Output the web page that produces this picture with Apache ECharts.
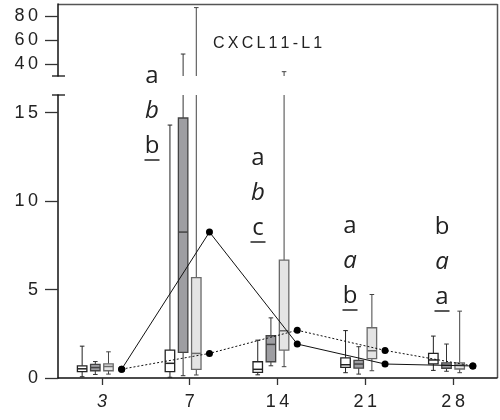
<!DOCTYPE html>
<html><head><meta charset="utf-8">
<script src="https://cdn.jsdelivr.net/npm/echarts@6/dist/echarts.min.js"></script>
<style>html,body{margin:0;padding:0;background:#fff}#c{width:500px;height:420px}</style>
</head><body><div id="c"></div>
<script>
// ---------- data ----------
const days = ['3', '7', '14', '21', '28'];
// five-number summaries per day: [min, q1, median, q3, max]
const whiteBox = [[0.07,0.36,0.52,0.69,1.8],[0.04,0.36,0.83,1.58,14.3],[0.18,0.32,0.49,0.92,2.14],[0.3,0.6,0.75,1.14,2.68],[0.43,0.8,1.02,1.39,2.37]];
const darkBox  = [[0.2,0.41,0.59,0.77,0.93],[0.13,1.45,8.25,14.7,48.3],[0.69,0.92,1.9,2.39,3.4],[0.22,0.56,0.79,1.0,1.77],[0.38,0.55,0.72,0.86,1.92]];
const lightBox = [[0.22,0.41,0.65,0.8,1.48],[0.17,0.49,1.39,5.68,87],[0.64,1.58,2.67,6.66,33.6],[0.41,1.09,1.54,2.84,4.72],[0.3,0.51,0.73,0.86,3.78]];
const solidLine  = [0.5, 8.25, 1.92, 0.79, 0.68];
const dottedLine = [0.5, 1.39, 2.7, 1.56, 0.68];
const yTicksUpper = [40, 60, 80];
const yTicksLower = [0, 5, 10, 15];
const titleText = 'CXCL11-L1';
const lettersRow1 = ['', 'a', 'a', 'a', 'b'];
const lettersRow2 = ['', 'b', 'b', 'a', 'a'];
const lettersRow3 = ['', 'b', 'c', 'b', 'a'];

// ---------- layout / style ----------
const SLOT = 0.15, BOXW = 0.108, DOT_OFF = 1.5 * SLOT;
const FONT = 'Liberation Sans';
const sp = s => String(s).split('').join('\u2009');

function boxRenderer(k, lo, hi, fill, stroke, whisk) {
  return function (params, api) {
    const i = api.value(0);
    const mn = api.value(1), q1 = api.value(2), md = api.value(3), q3 = api.value(4), mx = api.value(5);
    const xp = i + (k - 1.5) * SLOT;
    const cx = api.coord([xp, lo])[0];
    const bw = api.size([BOXW, 0])[0];
    const cap = 2.3;
    const Y = v => api.coord([xp, Math.max(lo, Math.min(hi, v))])[1];
    const inR = v => v >= lo && v <= hi;
    const ls = { stroke: whisk, lineWidth: 1 };
    const ch = [];
    if (mx > lo && q3 < hi) ch.push({ type: 'line', shape: { x1: cx, y1: Y(q3), x2: cx, y2: Y(mx) }, style: ls });
    if (inR(mx)) ch.push({ type: 'line', shape: { x1: cx - cap, y1: Y(mx), x2: cx + cap, y2: Y(mx) }, style: ls });
    if (q1 > lo && mn < hi) ch.push({ type: 'line', shape: { x1: cx, y1: Y(q1), x2: cx, y2: Y(mn) }, style: ls });
    if (inR(mn)) ch.push({ type: 'line', shape: { x1: cx - cap, y1: Y(mn), x2: cx + cap, y2: Y(mn) }, style: ls });
    if (q3 > lo && q1 < hi) {
      const yt = Y(q3), yb = Y(q1);
      ch.push({ type: 'rect', shape: { x: cx - bw / 2, y: yt, width: bw, height: yb - yt }, style: { fill: fill, stroke: stroke, lineWidth: 1.3 } });
    }
    if (inR(md)) ch.push({ type: 'line', shape: { x1: cx - bw / 2, y1: Y(md), x2: cx + bw / 2, y2: Y(md) }, style: { stroke: stroke, lineWidth: 1.5 } });
    return { type: 'group', children: ch };
  };
}
const toData = arr => arr.map((b, i) => [i].concat(b));
const boxStyles = [
  { data: whiteBox, fill: '#ffffff', stroke: '#222', whisk: '#222' },
  { data: darkBox,  fill: '#9e9ea2', stroke: '#444', whisk: '#333' },
  { data: lightBox, fill: '#e4e4e4', stroke: '#6a6a6a', whisk: '#444' }
];
const series = [];
boxStyles.forEach((b, k) => {
  series.push({ type: 'custom', xAxisIndex: 0, yAxisIndex: 0, z: 2, silent: true,
    encode: { x: 0, y: [1, 2, 3, 4, 5] }, data: toData(b.data),
    renderItem: boxRenderer(k, 30, 90, b.fill, b.stroke, b.whisk) });
  series.push({ type: 'custom', xAxisIndex: 2, yAxisIndex: 1, z: 2, silent: true,
    encode: { x: 0, y: [1, 2, 3, 4, 5] }, data: toData(b.data),
    renderItem: boxRenderer(k, 0, 16, b.fill, b.stroke, b.whisk) });
});
series.push({ type: 'line', xAxisIndex: 2, yAxisIndex: 1, z: 4, silent: true,
  data: solidLine.map((v, i) => [i + DOT_OFF, v]), symbol: 'circle', symbolSize: 7,
  itemStyle: { color: '#000' }, lineStyle: { color: '#111', width: 1 } });
series.push({ type: 'line', xAxisIndex: 2, yAxisIndex: 1, z: 4, silent: true,
  data: dottedLine.map((v, i) => [i + DOT_OFF, v]), symbol: 'circle', symbolSize: 7,
  itemStyle: { color: '#000' }, lineStyle: { color: '#111', width: 1, type: [2, 2] } });

// annotations (text)
const annX = [0, 152, 258, 350, 442];
const annBase = [0, 85, 167, 235, 236];
const graphic = [
  { type: 'line', shape: { x1: 58, y1: 4.5, x2: 497.5, y2: 4.5 }, style: { stroke: '#555', lineWidth: 1.5 } },
  { type: 'line', shape: { x1: 497.5, y1: 4, x2: 497.5, y2: 378 }, style: { stroke: '#555', lineWidth: 1.5 } },
  { type: 'line', shape: { x1: 52, y1: 76, x2: 65, y2: 76 }, style: { stroke: '#111', lineWidth: 1.3 } },
  { type: 'line', shape: { x1: 52, y1: 95, x2: 65, y2: 95 }, style: { stroke: '#111', lineWidth: 1.3 } },
  { type: 'text', x: 213, y: 44, style: { text: sp(titleText), font: '16px "' + FONT + '"', fill: '#222', verticalAlign: 'middle', align: 'left' } }
];
for (let d = 1; d < days.length; d++) {
  const x = annX[d], b = annBase[d];
  graphic.push({ type: 'text', x: x, y: b - 9, style: { text: lettersRow1[d], font: '24px "Open Sans"', fill: '#222', align: 'center', verticalAlign: 'middle' } });
  graphic.push({ type: 'text', x: x, y: b + 35 - 9, style: { text: lettersRow2[d], font: 'italic 24px "Open Sans"', fill: '#222', align: 'center', verticalAlign: 'middle' } });
  graphic.push({ type: 'text', x: x, y: b + 70 - 9, style: { text: lettersRow3[d], font: '24px "Open Sans"', fill: '#222', align: 'center', verticalAlign: 'middle' } });
  graphic.push({ type: 'line', shape: { x1: x - 7.5, y1: b + 75, x2: x + 7.5, y2: b + 75 }, style: { stroke: '#222', lineWidth: 1.5 } });
}

const axisLineStyle = { color: '#111', width: 1.5 };
const labelStyle = { color: '#222', fontSize: 18, fontFamily: FONT };
const option = {
  backgroundColor: '#fff',
  animation: false,
  grid: [
    { left: 58, right: 3, top: 4, height: 72 },
    { left: 58, right: 3, top: 95, bottom: 42 }
  ],
  xAxis: [
    { type: 'value', gridIndex: 0, min: -0.5, max: 4.5, show: false },
    { type: 'category', gridIndex: 1, data: days, boundaryGap: true,
      axisLine: { show: true, onZero: false, lineStyle: axisLineStyle },
      axisTick: { show: true, alignWithLabel: true, length: 7, lineStyle: { color: '#333', width: 1.3 } },
      axisLabel: Object.assign({ margin: 15, formatter: v => v === '3' ? '{i|3}' : sp(v),
        rich: { i: { fontStyle: 'italic', fontSize: 18, fontFamily: FONT, color: '#222' } } }, labelStyle),
      splitLine: { show: false } },
    { type: 'value', gridIndex: 1, min: -0.5, max: 4.5, show: false }
  ],
  yAxis: [
    { type: 'value', gridIndex: 0, min: 30, max: 90,
      axisLine: { show: true, onZero: false, lineStyle: axisLineStyle },
      axisTick: { show: true, length: 13, customValues: yTicksUpper, lineStyle: { color: '#333', width: 1.3 } },
      axisLabel: Object.assign({ margin: 20, customValues: yTicksUpper, formatter: v => sp(v) }, labelStyle),
      splitLine: { show: false } },
    { type: 'value', gridIndex: 1, min: 0, max: 16,
      axisLine: { show: true, onZero: false, lineStyle: axisLineStyle },
      axisTick: { show: true, length: 13, customValues: yTicksLower, lineStyle: { color: '#333', width: 1.3 } },
      axisLabel: Object.assign({ margin: 20, customValues: yTicksLower, formatter: v => sp(v) }, labelStyle),
      splitLine: { show: false } }
  ],
  graphic: graphic,
  series: series
};
const chart = echarts.init(document.getElementById('c'), null, { renderer: 'canvas' });
chart.setOption(option);
</script>
</body></html>
